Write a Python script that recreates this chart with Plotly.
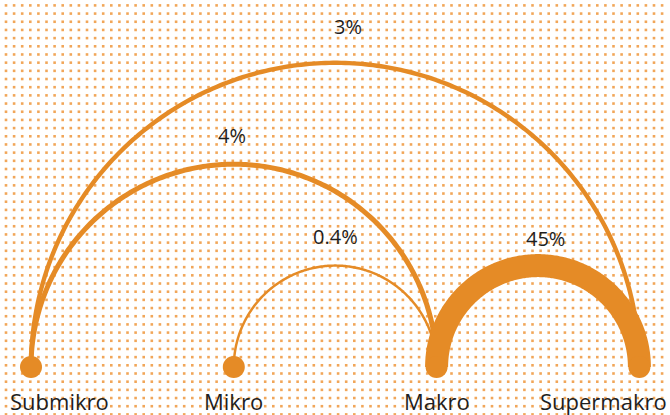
import numpy as np
import plotly.graph_objects as go

# data
nodes = ["Submikro", "Mikro", "Makro", "Supermakro"]
link_source = [0, 0, 1, 2]
link_target = [3, 2, 2, 3]
link_value = [3, 4, 0.4, 45]
link_label = ["3%", "4%", "0.4%", "45%"]

# style / layout
W, H = 670, 415
orange = "#E58B26"
dot_color = "rgba(238,150,60,0.85)"
base_y = 367
x0, step = 31, 202.8
label_dx = [13, -2, 0, 7]
label_dy = [-36, -29, -29, -27]

node_x = [x0 + i * step for i in range(len(nodes))]

fig = go.Figure()

# dotted background
gx = np.arange(6, W, 8.1)
gy = np.arange(5.4, H, 8.18)
GX, GY = np.meshgrid(gx, gy)
fig.add_trace(go.Scatter(x=GX.ravel(), y=GY.ravel(), mode="markers",
                         marker=dict(symbol="square", size=2.6, color=dot_color, line_width=0),
                         hoverinfo="skip", showlegend=False))

# arcs, thick ones on top
order = np.argsort(link_value)
theta = np.linspace(0, np.pi, 240)
for k in order:
    a, b = node_x[link_source[k]], node_x[link_target[k]]
    cx, r = (a + b) / 2, abs(b - a) / 2
    w = 2 + link_value[k] ** 0.8
    fig.add_trace(go.Scatter(x=cx - r * np.cos(theta), y=base_y - r * np.sin(theta),
                             mode="lines", line=dict(color=orange, width=w, simplify=False),
                             hoverinfo="skip", showlegend=False))
    fig.add_annotation(x=cx + label_dx[k], y=base_y - r + label_dy[k], text=link_label[k],
                       showarrow=False, font=dict(size=20, color="#1e1e1e"))

# nodes
fig.add_trace(go.Scatter(x=node_x, y=[base_y] * len(nodes), mode="markers",
                         marker=dict(size=22, color=orange, line_width=0),
                         hoverinfo="skip", showlegend=False))

for i, name in enumerate(nodes):
    if i == 0:
        xa, xx = "left", 8
    elif i == len(nodes) - 1:
        xa, xx = "right", 669
    else:
        xa, xx = "center", node_x[i]
    fig.add_annotation(x=xx, y=401, text=name, xanchor=xa, showarrow=False,
                       font=dict(size=22, color="#1e1e1e"))

fig.update_layout(
    width=W, height=H, margin=dict(l=0, r=0, t=0, b=0),
    paper_bgcolor="white", plot_bgcolor="white",
    font=dict(family="Open Sans"),
    xaxis=dict(range=[0, W], visible=False, fixedrange=True),
    yaxis=dict(range=[H, 0], visible=False, fixedrange=True),
)
fig.write_html("out.html", config={"displayModeBar": False},
               post_script="document.body.style.margin='0';document.body.style.overflow='hidden';")
